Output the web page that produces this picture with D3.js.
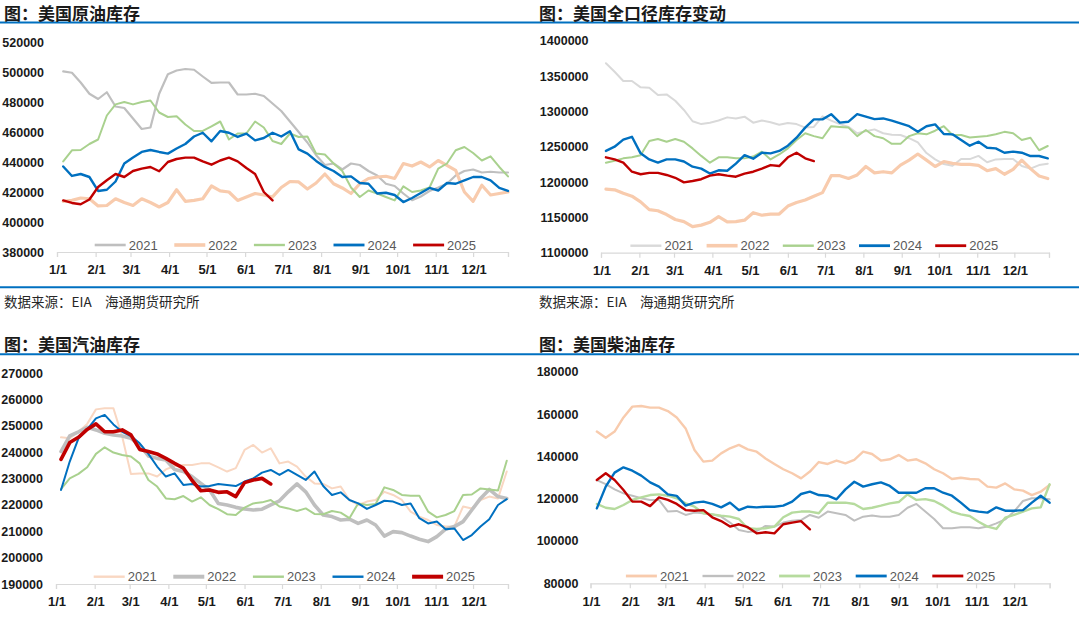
<!DOCTYPE html>
<html>
<head>
<meta charset="utf-8">
<script src="https://cdn.jsdelivr.net/npm/d3@7"></script>
<style>
  body { margin: 0; background: #fff; }
  svg { display: block; }
  .ylab { font-family: "Liberation Sans", Arial, sans-serif; font-weight: bold; font-size: 12.5px; fill: #1a1a1a; }
  .xlab { font-family: "Liberation Sans", Arial, sans-serif; font-weight: bold; font-size: 13px; fill: #1a1a1a; }
  .leg { font-family: "Liberation Sans", Arial, sans-serif; font-size: 13px; fill: #595959; }
  .title { font-family: "Noto Sans CJK SC", sans-serif; font-weight: bold; font-size: 17px; fill: #1a1a1a; }
  .src { font-family: "Noto Sans CJK SC", sans-serif; font-size: 13.5px; fill: #262626; }
</style>
</head>
<body>
<div id="chart"></div>
<script>
// weekly inventories, thousand barrels
const years = ["2021", "2022", "2023", "2024", "2025"];
const monthLabels = ["1/1","2/1","3/1","4/1","5/1","6/1","7/1","8/1","9/1","10/1","11/1","12/1"];
const monthDays = [0, 31, 59, 90, 120, 151, 181, 212, 243, 273, 304, 334];

// 美国原油库存
const crude2021 = [500.4,499.5,493,485.5,482,486.5,477,476,469,462,463,485.5,498.5,501,502,501.5,497,492.7,493,493,485,485,485.5,484,479,474,467,460,453,444.5,438,439,435,439,438,434,431,425.5,424,419,414.5,417,420.7,423,425.5,431,434,435,433,433.5,433,433];
const crude2022 = [413.8,414.4,416,415.5,410.7,411,415.5,413,411,415.5,413,410,413,421.5,413.8,414.4,415.5,424,420.7,420,414.4,416.7,419,418,416.7,423,427,426.7,422,426,432,425.5,422.7,419,425.5,429,430,430.5,429,439,437.3,440,436.7,441,437.8,434.4,420,413.8,424.5,418,419,420];
const crude2023 = [440.4,447.8,448,452,455,471,478.4,480,478.4,480,481,473,470,470.5,465,460.7,460.7,463.8,467,455,459,459,467,463,454,452,459,456.7,457,445.6,445,439,434,423,416.7,421,419,416.7,414.4,423.8,420,421,423,435.6,439,447.8,450,446,441,443.8,436.7,430.4];
const crude2024 = [437,430.7,432,430,420.7,421.5,427,439,443,446.7,448,446.7,445.6,449,452,457,459.5,453.8,460.7,459.5,456.7,458.9,454.4,456,459.5,457,460.5,448.4,445.6,440.7,436.7,434,430,430.4,426,425.5,419,419.5,418,413.3,416,419.3,422.7,421,426,425.5,427.8,430,430,427.8,422.7,420.7];
const crude2025 = [414.4,412.7,411.8,415,423.3,427.8,432,430,434,435.6,436.7,433.8,440,442,442.9,442.9,440.4,438.2,441,442.9,440.4,436,432,420,414.4];
const crudeTicks = [380000,400000,420000,440000,460000,480000,500000,520000];

// 美国全口径库存变动
const total2021 = [1368,1356,1343,1343,1334,1333.5,1323,1324,1315,1302,1286,1282,1284,1287,1291.5,1290,1292.5,1284,1287,1284.5,1281,1283.5,1282,1277,1278,1293,1287,1282,1278,1269,1272,1274.5,1269,1267,1266.5,1262,1256,1241,1232,1225.5,1223,1232.5,1232.5,1237,1228,1232,1232.5,1232.5,1222.6,1219,1224,1226];
const total2022 = [1190,1189,1184,1180,1172,1161,1159.4,1154,1147,1144,1137,1139,1143,1151,1143.6,1144,1146,1156.6,1153,1154.7,1154.7,1166,1171,1174.5,1180,1185,1209,1209,1205,1210,1222,1213,1214.6,1213,1224,1231,1239.6,1231,1222,1229,1226.4,1225,1225,1223.6,1216,1219,1211,1218,1231,1219,1208.5,1205];
const total2023 = [1227.4,1230,1233.5,1235,1238,1258,1261,1257,1261,1257,1247.6,1237,1227.4,1235,1235,1233.5,1233.5,1236,1243,1232,1239,1247.6,1259.4,1269,1265,1262,1279,1278,1277,1265,1273.6,1265,1262,1254,1254,1265,1269,1267.5,1272.6,1279,1266.5,1266.5,1263,1264,1265,1267.5,1271,1269,1259.4,1262.7,1245,1251];
const total2024 = [1244,1250,1260,1264,1240.6,1232,1227.4,1232,1232,1229,1221.7,1219,1212,1216.6,1216,1226,1238,1233,1241.5,1240.6,1244,1251.4,1262.7,1277,1288.7,1288.7,1296,1284,1285.4,1296,1292.5,1289,1290,1287,1283,1279,1271,1279,1281.6,1268,1267.5,1259.4,1251.4,1257,1248.6,1247.6,1241.5,1243,1241.5,1236.8,1236.8,1233.5];
const total2025 = [1235,1232,1227.4,1214.6,1211,1213,1213,1210,1206,1199.5,1201.4,1204,1209,1211,1209,1207.5,1212,1214.6,1219,1224,1222.6,1235,1241.5,1233.5,1229.7];
const totalTicks = [1100000,1150000,1200000,1250000,1300000,1350000,1400000];

// 美国汽油库存
const gas2021 = [245.7,245.3,247.8,250.8,256.3,256.7,256.7,246,231.8,232,232,230.8,233.5,234.8,235.2,235.2,235.8,235.8,234.3,232.7,234,240.9,242.8,239.9,241.5,235.8,236.5,234.6,230.8,228.2,228,226.3,227,221.9,220,221.3,221.9,225,223.8,221.9,217.5,215.6,214.3,212.4,211.8,211.8,219.4,218.7,221.9,223.2,222.5,232.7];
const gas2022 = [240.3,246.2,247.8,249.5,248.5,247.2,246.6,246.2,245.3,242.8,238.6,237.7,237.1,233.5,232.7,230.8,228.2,225.7,220.6,220,219.1,218.5,218.1,218.4,220,221.6,225,228,225,220,216.2,215.6,214.3,214.6,213,214.3,212.4,208.2,209.9,209.5,208.2,207,206.1,208,210.8,211.8,213.7,218.1,222.5,225.9,223.2,222.5];
const gas2023 = [226,230.1,231.8,234.3,239.4,241.9,239.9,239,238.4,235.8,229.5,227,222.5,222.2,223.4,221.3,222.9,220,218.4,216.5,216.2,219,220.6,221,221.9,219.4,218.7,217.7,218.7,216.6,216.5,217.7,217.1,215,220.6,220,220.4,226.7,225.7,223.8,223.5,223.5,217.5,215.3,216.2,217.7,223.8,224,226.3,225.9,225.5,236.8];
const gas2024 = [225.7,236.5,245.3,248.7,252.9,254.2,250.6,247.8,246.2,243.4,239.4,234.6,230.8,232,227.6,228,227,227.2,228,227.6,227.2,228.9,230.1,232.3,233.3,231.4,233.3,231.4,229.5,232.7,227.2,223.8,224.8,221.9,220.6,218.5,220,221.6,221.3,220,220.6,215,213,213.7,210.8,211.1,206.7,208.6,211.8,214.6,220,222.2];
const gas2025 = [237.3,243.7,245.7,248.7,250.8,247.8,247.8,248.5,246.6,241.1,240.3,239.4,237.7,235.8,234,229.3,225.4,225.7,224.8,225,223.2,228.5,229.5,230.1,228];
const gasTicks = [190000,200000,210000,220000,230000,240000,250000,260000,270000];

// 美国柴油库存
const dsl2021 = [151.7,148.8,151.7,158.4,163.5,163.8,163,163,161.4,158.4,153.2,143,137.5,138,141.4,143.8,145.4,143.3,142.2,139,136.4,133.9,132,129.6,132.8,137.3,136.4,138,136.7,138.3,142.2,141.1,138,138.6,140.6,138,138.6,136.7,133.9,132,129.3,129.9,129.3,129.1,125.7,125.2,127.2,124.4,123.8,121.7,123.3,126.5];
const dsl2022 = [128.8,126.9,124.4,122.5,121.4,120.2,119.4,119.4,113.9,114.2,112.3,113.4,113.1,112.6,111.5,108.7,105.2,104.3,104.7,107.1,106.8,108.7,109.6,109.9,112.3,111,113.9,113.1,112.3,109.6,111.5,112,111.5,111.5,112.3,115.7,117.5,113.9,110.4,106,106,106.5,106.5,106,106.8,108.3,110.2,113.9,118.9,120.2,120.2,119.7];
const dsl2023 = [117.5,115.7,115.1,117,119.4,120.6,121.7,122,121.4,120.2,117.8,116.2,113.1,112.6,112,111.5,110.4,106,105.7,106,106.8,111.2,113.4,113.9,113.9,113.1,118.1,118.1,118.1,117.5,115.1,115.7,116.7,117.8,118.4,122,119.4,119.8,118.9,116.7,113.9,112.6,111.8,109.1,106.8,105.7,111,112.3,113.9,115.4,115.9,126.8];
const dsl2024 = [115.4,125.7,132.3,134.8,133.2,130.9,127.7,125.7,122,121.3,116.7,118.1,118.6,117.5,115.9,118.1,114.6,116.2,115.9,116.2,116.2,116.7,118.6,122.2,123.3,121.7,121.4,119.7,124.4,128,125.7,126.8,127.7,126,122.8,122.8,122.8,124.9,124.9,122.8,121.4,118.1,114.6,113.9,113.4,115.9,114.3,114.3,114.6,118.1,121.4,118.1];
const dsl2025 = [128.8,132,128.8,124.1,118.6,118.6,116.5,120.6,119.4,117.5,114.6,114.3,114.6,111.2,109.4,106.8,107.9,106.5,103.6,104.1,103.6,107.9,108.7,109.4,105.5];
const dslTicks = [80000,100000,120000,140000,160000,180000];

const W = 1079, H = 620;
const BLUE = "#0070C0";

const svg = d3.select("#chart").append("svg")
    .attr("width", W)
    .attr("height", H)
    .attr("viewBox", `0 0 ${W} ${H}`);

// blue rules under titles and above source
[22.5, 287.3, 354.3].forEach(y => {
    svg.append("line")
        .attr("x1", 0).attr("x2", W)
        .attr("y1", y).attr("y2", y)
        .attr("stroke", BLUE)
        .attr("stroke-width", 2);
});

const panels = [
    {
        title: "图：美国原油库存", tx: 4, ty: 20,
        x0: 57, x1: 508, yBot: 252, yTop: 42, ticks: crudeTicks, labRight: 44,
        xLabY: 274, firstDay: 5,
        series: [crude2021, crude2022, crude2023, crude2024, crude2025],
        colors: ["#BFBFBF", "#F8CBAD", "#A9D18E", BLUE, "#C00000"],
        widths: [2.2, 3.2, 2, 2.4, 2.4],
        legX: 94.7, legStep: 79.6, legY: 245,
        source: true
    },
    {
        title: "图：美国全口径库存变动", tx: 539, ty: 20,
        x0: 601, x1: 1049, yBot: 252.7, yTop: 40.7, ticks: totalTicks, labRight: 588.5,
        xLabY: 275, firstDay: 4,
        series: [total2021, total2022, total2023, total2024, total2025],
        colors: ["#D9D9D9", "#F8CBAD", "#A9D18E", BLUE, "#C00000"],
        widths: [2, 3.2, 2, 2.4, 2.4],
        legX: 630.4, legStep: 76.2, legY: 245.7,
        source: true
    },
    {
        title: "图：美国汽油库存", tx: 4, ty: 351,
        x0: 56, x1: 508, yBot: 584, yTop: 373.3, ticks: gasTicks, labRight: 43,
        xLabY: 606, firstDay: 4,
        series: [gas2021, gas2022, gas2023, gas2024, gas2025],
        colors: ["#F9D7C2", "#BFBFBF", "#A9D18E", BLUE, "#C00000"],
        widths: [2, 3.6, 2, 2, 3.6],
        legX: 93.7, legStep: 79.6, legY: 576.7,
        source: false
    },
    {
        title: "图：美国柴油库存", tx: 539, ty: 351,
        x0: 590.5, x1: 1049.6, yBot: 583.3, yTop: 371.7, ticks: dslTicks, labRight: 578.4,
        xLabY: 606, firstDay: 5,
        series: [dsl2021, dsl2022, dsl2023, dsl2024, dsl2025],
        colors: ["#F8CBAD", "#BFBFBF", "#B6DB9E", BLUE, "#C00000"],
        widths: [2.4, 2, 2.4, 2.4, 2.4],
        legX: 625.9, legStep: 76.6, legY: 576,
        source: false
    }
];

panels.forEach(p => {
    const g = svg.append("g");

    // title
    g.append("text")
        .attr("class", "title")
        .attr("x", p.tx)
        .attr("y", p.ty)
        .text(p.title);

    const x = d3.scaleLinear().domain([0, 362]).range([p.x0, p.x1]);
    const y = d3.scaleLinear()
        .domain([p.ticks[0], p.ticks[p.ticks.length - 1]])
        .range([p.yBot, p.yTop]);

    // y tick labels (no axis line in the original)
    g.selectAll(".ylab")
        .data(p.ticks)
        .enter().append("text")
        .attr("class", "ylab")
        .attr("x", p.labRight)
        .attr("y", d => y(d))
        .attr("dy", "0.36em")
        .attr("text-anchor", "end")
        .text(d => d);

    // x axis with month ticks
    const xAxis = d3.axisBottom(x)
        .tickValues(monthDays.concat([362]))
        .tickSize(5)
        .tickFormat("");
    const ax = g.append("g")
        .attr("transform", `translate(0,${p.yBot})`)
        .call(xAxis);
    ax.select(".domain").attr("stroke", "#D9D9D9").attr("stroke-width", 1.2);
    ax.selectAll(".tick line").attr("stroke", "#D9D9D9").attr("stroke-width", 1.2);

    g.selectAll(".xlab")
        .data(monthDays)
        .enter().append("text")
        .attr("class", "xlab")
        .attr("x", d => x(d) + 1)
        .attr("y", p.xLabY)
        .attr("text-anchor", "middle")
        .text((d, i) => monthLabels[i]);

    // series lines
    const line = d3.line()
        .x((d, i) => x(p.firstDay + 7 * i))
        .y(d => y(d * 1000));

    p.series.forEach((s, k) => {
        g.append("path")
            .datum(s)
            .attr("fill", "none")
            .attr("stroke", p.colors[k])
            .attr("stroke-width", p.widths[k])
            .attr("stroke-linejoin", "round")
            .attr("stroke-linecap", "round")
            .attr("d", line);
    });

    // legend
    const leg = g.selectAll(".legitem")
        .data(years)
        .enter().append("g")
        .attr("class", "legitem")
        .attr("transform", (d, i) => `translate(${p.legX + i * p.legStep},${p.legY})`);
    leg.append("line")
        .attr("x1", 0).attr("x2", 31)
        .attr("y1", 0).attr("y2", 0)
        .attr("stroke", (d, i) => p.colors[i])
        .attr("stroke-width", (d, i) => p.widths[i] + 0.4);
    leg.append("text")
        .attr("class", "leg")
        .attr("x", 34)
        .attr("dy", "0.36em")
        .text(d => d);

    if (p.source) {
        g.append("text")
            .attr("class", "src")
            .attr("x", p.tx)
            .attr("y", 307)
            .text("数据来源：EIA\u3000海通期货研究所");
    }
});
</script>
</body>
</html>
